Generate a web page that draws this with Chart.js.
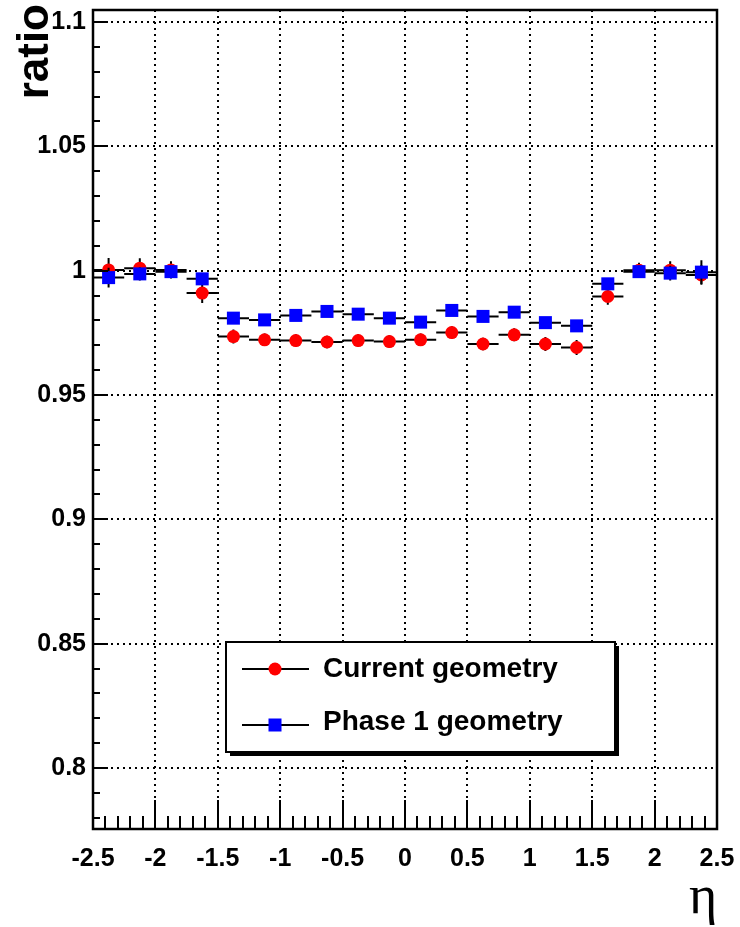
<!DOCTYPE html>
<html>
<head>
<meta charset="utf-8">
<script src="https://cdn.jsdelivr.net/npm/chart.js@4.4.0/dist/chart.umd.min.js"></script>
<style>
  html, body { margin: 0; padding: 0; background: #fff; }
</style>
</head>
<body>
<canvas id="ratioChart" width="740" height="927"></canvas>
<script>
// bin centres in eta (bin width 0.25)
const etaBins = [-2.375, -2.125, -1.875, -1.625, -1.375, -1.125, -0.875, -0.625, -0.375, -0.125,
                 0.125, 0.375, 0.625, 0.875, 1.125, 1.375, 1.625, 1.875, 2.125, 2.375];
const binHalfWidth = 0.125;

const currentRatio = [1.0003, 1.0010, 1.0003, 0.9910, 0.9735, 0.9722, 0.9719, 0.9713, 0.9719, 0.9715,
                      0.9722, 0.9751, 0.9705, 0.9742, 0.9705, 0.9691, 0.9896, 1.0002, 1.0002, 0.9983];
const currentErr = [0.0048, 0.0040, 0.0035, 0.0040, 0.0028, 0.0025, 0.0025, 0.0025, 0.0025, 0.0025,
                    0.0025, 0.0025, 0.0025, 0.0026, 0.0028, 0.0030, 0.0033, 0.0030, 0.0036, 0.0040];

const phase1Ratio = [0.9972, 0.9987, 0.9996, 0.9967, 0.9809, 0.9802, 0.9820, 0.9836, 0.9825, 0.9809,
                     0.9793, 0.9840, 0.9816, 0.9833, 0.9791, 0.9778, 0.9947, 0.9996, 0.9990, 0.9994];
const phase1Err = [0.0040, 0.0027, 0.0025, 0.0022, 0.0020, 0.0020, 0.0020, 0.0020, 0.0020, 0.0020,
                   0.0020, 0.0020, 0.0020, 0.0020, 0.0020, 0.0020, 0.0022, 0.0025, 0.0030, 0.0048];

const yTicks = [0.8, 0.85, 0.9, 0.95, 1, 1.05, 1.1];

const FONT = '"Liberation Sans", Arial, Helvetica, sans-serif';

function toPoints(ys) {
  return etaBins.map((x, i) => ({ x: x, y: ys[i] }));
}

// ROOT style error bars, drawn under each graph's markers
const errorBars = {
  id: 'errorBars',
  beforeDatasetDraw(chart, args) {
    const ds = chart.data.datasets[args.index];
    const xs = chart.scales.x, ys = chart.scales.y;
    const ctx = chart.ctx;
    ctx.save();
    ctx.strokeStyle = '#000';
    ctx.lineWidth = 2;
    ds.data.forEach((p, i) => {
      const py = ys.getPixelForValue(p.y);
      const px = xs.getPixelForValue(p.x);
      ctx.beginPath();
      ctx.moveTo(xs.getPixelForValue(p.x - binHalfWidth), py);
      ctx.lineTo(xs.getPixelForValue(p.x + binHalfWidth), py);
      ctx.moveTo(px, ys.getPixelForValue(p.y - ds.errors[i]));
      ctx.lineTo(px, ys.getPixelForValue(p.y + ds.errors[i]));
      ctx.stroke();
    });
    ctx.restore();
  }
};

// frame, inner ticks, axis titles and the legend box
const rootFrame = {
  id: 'rootFrame',
  afterDraw(chart) {
    const ctx = chart.ctx;
    const a = chart.chartArea;
    const xs = chart.scales.x, ys = chart.scales.y;
    ctx.save();
    ctx.strokeStyle = '#000';
    ctx.lineWidth = 2;
    ctx.beginPath();
    for (let i = 0; i <= 50; i++) {
      const px = Math.round(xs.getPixelForValue(-2.5 + i * 0.1));
      const len = i % 5 === 0 ? 29 : 13;
      ctx.moveTo(px, a.bottom);
      ctx.lineTo(px, a.bottom - len);
    }
    for (let i = 78; i <= 110; i++) {
      const py = Math.round(ys.getPixelForValue(i / 100));
      const len = i % 5 === 0 ? 15 : 7;
      ctx.moveTo(a.left, py);
      ctx.lineTo(a.left + len, py);
    }
    ctx.stroke();
    ctx.lineWidth = 2.5;
    ctx.strokeRect(a.left, a.top, a.right - a.left, a.bottom - a.top);

    // axis titles
    ctx.fillStyle = '#000';
    ctx.font = 'bold 44px ' + FONT;
    ctx.translate(48, 4);
    ctx.rotate(-Math.PI / 2);
    ctx.textAlign = 'right';
    ctx.textBaseline = 'alphabetic';
    ctx.fillText('ratio', 0, 0);
    ctx.setTransform(1, 0, 0, 1, 0, 0);
    ctx.font = '54px "Liberation Serif", "Times New Roman", serif';
    ctx.textAlign = 'center';
    ctx.fillText('\u03b7', 703, 913);

    // legend
    const lx = 226, ly = 642, lw = 389, lh = 110;
    ctx.fillStyle = '#000';
    ctx.fillRect(lx + 4, ly + 4, lw, lh);
    ctx.fillStyle = '#fff';
    ctx.fillRect(lx, ly, lw, lh);
    ctx.lineWidth = 2;
    ctx.strokeRect(lx, ly, lw, lh);
    const rows = [669, 725];
    const bases = [677, 730];
    chart.data.datasets.forEach((ds, i) => {
      const cy = rows[i];
      ctx.beginPath();
      ctx.moveTo(242, cy);
      ctx.lineTo(309, cy);
      ctx.strokeStyle = '#000';
      ctx.lineWidth = 2;
      ctx.stroke();
      ctx.fillStyle = ds.backgroundColor;
      if (ds.pointStyle === 'rect') {
        ctx.fillRect(275 - 6.5, cy - 6.5, 13, 13);
      } else {
        ctx.beginPath();
        ctx.arc(275, cy, 6.5, 0, Math.PI * 2);
        ctx.fill();
      }
      ctx.fillStyle = '#000';
      ctx.font = 'bold 28px ' + FONT;
      ctx.textAlign = 'left';
      ctx.fillText(ds.label, 323, bases[i]);
    });
    ctx.restore();
  }
};

const ctx = document.getElementById('ratioChart').getContext('2d');
const ratioChart = new Chart(ctx, {
  type: 'scatter',
  data: {
    datasets: [{
      label: 'Current geometry',
      data: toPoints(currentRatio),
      errors: currentErr,
      backgroundColor: '#ff0000',
      pointStyle: 'circle',
      pointRadius: 6.5,
      pointBorderWidth: 0,
      order: 2
    }, {
      label: 'Phase 1 geometry',
      data: toPoints(phase1Ratio),
      errors: phase1Err,
      backgroundColor: '#0000ff',
      pointStyle: 'rect',
      pointRadius: 9.2,
      pointBorderWidth: 0,
      order: 1
    }]
  },
  options: {
    responsive: false,
    animation: false,
    devicePixelRatio: 1,
    layout: { padding: { top: 10, right: 23, left: 0, bottom: 0 } },
    plugins: {
      legend: { display: false },
      tooltip: { enabled: false }
    },
    scales: {
      x: {
        type: 'linear',
        min: -2.5,
        max: 2.5,
        afterFit(s) { s.height = 98; s.paddingLeft = 0; s.paddingRight = 0; },
        grid: { color: '#000', lineWidth: 2, drawTicks: false },
        border: { display: false, dash: [2, 4] },
        ticks: {
          stepSize: 0.5,
          autoSkip: false,
          maxRotation: 0,
          padding: 15,
          color: '#000',
          font: { family: FONT, size: 25, weight: 'bold' },
          callback: v => String(+v.toFixed(2))
        }
      },
      y: {
        min: 0.7755,
        max: 1.1048,
        afterFit(s) { s.width = 93; s.paddingTop = 0; s.paddingBottom = 0; },
        afterBuildTicks(s) { s.ticks = yTicks.map(v => ({ value: v })); },
        grid: { color: '#000', lineWidth: 2, drawTicks: false },
        border: { display: false, dash: [2, 4] },
        ticks: {
          autoSkip: false,
          padding: 7,
          color: '#000',
          font: { family: FONT, size: 25, weight: 'bold' },
          callback: v => String(+Number(v).toFixed(2))
        }
      }
    }
  },
  plugins: [errorBars, rootFrame]
});
</script>
</body>
</html>
